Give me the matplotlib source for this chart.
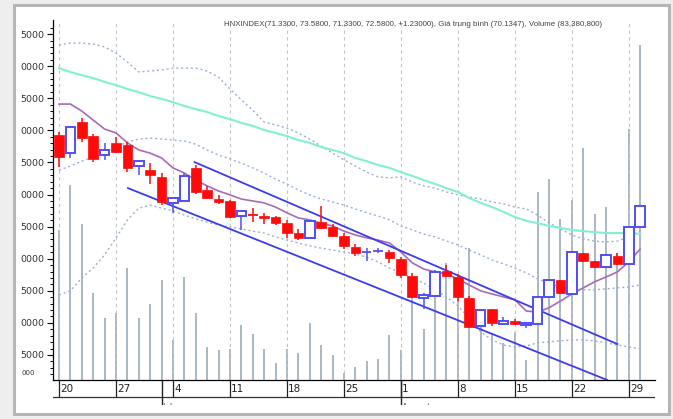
import matplotlib
matplotlib.use("Agg")
import matplotlib.pyplot as plt
from matplotlib.patches import Rectangle

# --- data (price in chart units, volume in millions) ---
opens = [78.5, 72.9, 82.6, 78.2, 72.3, 76.1, 75.4, 68.9, 67.7, 65.5,
         57.4, 58.0, 68.3, 61.4, 58.6, 58.0, 53.3, 53.7, 53.3, 53.0,
         51.1, 48.0, 46.5, 51.4, 49.9, 47.1, 43.7, 42.0, 42.3, 42.1,
         39.9, 34.6, 27.8, 28.4, 36.2, 34.3, 27.8, 19.0, 24.4, 19.7,
         20.6, 19.4, 19.7, 28.1, 33.4, 29.0, 41.8, 39.3, 37.4, 40.9,
         38.4, 49.9]
highs = [79.5, 81.4, 83.8, 78.9, 76.1, 77.9, 76.4, 70.4, 69.8, 66.7,
         59.2, 66.7, 69.2, 62.7, 59.9, 58.3, 54.9, 55.8, 54.3, 53.3,
         52.1, 49.3, 52.1, 56.4, 50.8, 48.0, 44.6, 43.3, 43.3, 42.7,
         40.5, 35.6, 29.3, 36.5, 38.1, 35.3, 28.4, 24.0, 24.4, 21.9,
         21.2, 20.3, 28.4, 33.4, 33.4, 42.1, 41.8, 39.3, 41.2, 41.8,
         49.9, 56.4]
lows = [68.6, 71.4, 76.4, 70.1, 70.8, 72.9, 67.0, 66.1, 63.3, 56.7,
        54.3, 58.0, 60.2, 58.6, 57.1, 52.7, 49.0, 51.4, 50.8, 50.5,
        46.5, 45.8, 46.5, 49.3, 46.8, 43.0, 40.9, 39.3, 41.8, 38.7,
        34.0, 27.8, 24.4, 28.4, 34.3, 26.8, 18.4, 18.7, 19.0, 19.4,
        19.4, 18.4, 19.7, 28.1, 29.0, 29.0, 39.0, 37.1, 37.4, 38.1,
        38.4, 49.9]
closes = [71.7, 81.0, 77.6, 71.1, 73.9, 73.3, 68.3, 70.4, 66.1, 57.7,
          58.9, 65.8, 60.8, 58.9, 57.7, 53.0, 54.9, 53.6, 52.7, 51.1,
          48.0, 46.5, 51.8, 49.6, 47.1, 44.0, 41.8, 42.1, 42.4, 40.2,
          34.9, 28.1, 28.7, 35.9, 34.6, 28.1, 18.7, 24.0, 20.0, 20.6,
          19.7, 20.0, 28.1, 33.4, 29.3, 42.1, 39.3, 37.4, 41.2, 38.4,
          49.9, 56.4]
volume = [37.3, 48.5, 38.8, 21.7, 15.4, 16.7, 27.9, 15.4, 18.9, 24.9,
          10.0, 25.6, 16.7, 8.2, 7.5, 7.7, 13.7, 11.4, 7.7, 4.2,
          7.7, 6.7, 14.2, 8.7, 6.2, 1.7, 3.2, 4.7, 5.2, 11.2,
          7.5, 22.9, 12.7, 23.6, 29.1, 19.9, 32.9, 17.4, 11.7, 9.2,
          12.0, 5.0, 46.8, 50.0, 40.1, 44.8, 57.7, 41.3, 43.1, 31.6,
          62.5, 83.4]
ma_short = [88.2, 88.2, 86.0, 83.2, 80.4, 79.2, 76.1, 73.9, 72.9, 71.4,
            68.3, 66.7, 64.5, 62.7, 61.1, 59.9, 58.6, 58.0, 57.4, 56.1,
            54.3, 52.7, 52.1, 51.1, 50.2, 48.6, 47.4, 46.5, 45.8, 44.9,
            42.1, 38.7, 36.8, 35.9, 35.3, 33.7, 31.8, 30.0, 29.0, 28.1,
            27.2, 23.7, 23.4, 24.7, 26.8, 29.0, 30.9, 32.8, 34.3, 35.9,
            39.0, 43.0]
ma_long = [99.4, 98.2, 97.2, 96.3, 95.1, 94.1, 92.9, 91.9, 90.7, 89.8,
           88.8, 87.6, 86.6, 85.7, 84.5, 83.5, 82.3, 81.4, 80.1, 79.2,
           78.2, 77.0, 76.1, 74.8, 73.9, 72.9, 71.4, 70.4, 69.2, 68.3,
           67.0, 65.8, 64.5, 63.3, 62.0, 60.8, 58.9, 57.4, 56.1, 54.6,
           53.0, 51.8, 51.1, 50.2, 49.6, 49.0, 48.6, 48.3, 48.0, 48.0,
           48.0, 47.7]
bb_upper = [106.6, 107.2, 107.2, 106.9, 106.0, 104.1, 101.3, 98.2, 98.5, 98.8,
            99.4, 99.4, 99.4, 98.5, 96.6, 92.9, 89.5, 86.3, 82.6, 81.7,
            80.7, 79.2, 77.3, 75.1, 72.9, 70.8, 68.9, 67.0, 65.5, 65.2,
            65.5, 63.9, 62.7, 62.0, 60.8, 59.9, 59.2, 58.6, 57.7, 57.1,
            56.1, 55.5, 53.6, 51.1, 49.3, 47.4, 46.2, 45.5, 45.2, 45.5,
            46.8, 48.6]
bb_mid = [67.6, 68.9, 70.4, 71.7, 73.3, 74.8, 76.4, 77.3, 77.6, 77.3,
          77.0, 76.7, 75.7, 73.9, 72.3, 71.1, 69.8, 68.3, 66.7, 64.8,
          63.3, 61.4, 59.9, 58.6, 57.7, 56.7, 55.5, 54.3, 53.3, 52.1,
          50.2, 49.0, 47.7, 46.8, 45.5, 44.3, 42.7, 41.2, 39.6, 38.4,
          37.1, 35.6, 33.7, 32.4, 31.2, 30.6, 30.3, 30.3, 30.6, 30.9,
          31.2, 31.8]
bb_lower = [28.7, 30.0, 34.0, 37.1, 41.2, 46.5, 52.1, 55.8, 56.7, 55.8,
            54.9, 53.6, 52.4, 51.4, 50.5, 49.9, 49.3, 48.6, 48.0, 46.8,
            45.8, 44.9, 44.0, 43.3, 42.7, 42.1, 41.5, 40.5, 39.0, 37.1,
            35.6, 34.0, 32.4, 30.3, 28.1, 25.3, 21.5, 17.2, 14.7, 13.1,
            12.5, 12.8, 13.8, 14.1, 14.4, 14.7, 14.7, 14.4, 13.8, 13.1,
            12.5, 11.9]
# hand drawn channel (bar index, price)
chan_top = [(11.9, 70.1), (49.0, 13.4)]
chan_bot = [(6.05, 62.0), (48.1, 2.2)]

week_pos = [0, 5, 10, 15, 20, 25, 30, 35, 40, 45, 50]
week_labels = ["20", "27", "4", "11", "18", "25", "1", "8", "15", "22", "29"]
month_pos = [9, 30]
month_labels = ["July", "August"]
yticks = [10, 20, 30, 40, 50, 60, 70, 80, 90, 100, 110]
ytick_labels = ["5000", "0000", "5000", "0000", "5000", "0000",
                "5000", "0000", "5000", "0000", "5000"]
title = ("HNXINDEX(71.3300, 73.5800, 71.3300, 72.5800, +1.23000), "
         "Giá trung bình (70.1347), Volume (83,380,800)")

# --------------------------------------------------------

W, H = 673, 419
fig = plt.figure(figsize=(W / 100, H / 100), dpi=100, facecolor="#eeeeee")


def box(x0, y0, x1, y1):
    return [x0 / W, 1 - y1 / H, (x1 - x0) / W, (y1 - y0) / H]


# white panel with a soft grey frame
fig.patches.append(Rectangle((14 / W, 1 - 414 / H), 655 / W, 409 / H,
                             transform=fig.transFigure, facecolor="white",
                             edgecolor="#b5b5b5", linewidth=2.2, zorder=-5))

XLIM = (-0.53, 52.3)
YLIM = (2.2, 114.4)
n = len(closes)
xs = list(range(n))

# volume sits behind everything
axv = fig.add_axes(box(53, 20, 655, 380))
axv.set_xlim(*XLIM)
axv.set_ylim(0, 89.6)
axv.axis("off")
axv.vlines(xs, 0, volume, color="#a9b9c1", linewidth=1.4)

ax = fig.add_axes(box(53, 20, 655, 380))
ax.patch.set_alpha(0)
ax.set_xlim(*XLIM)
ax.set_ylim(*YLIM)

for p in week_pos:
    ax.axvline(p, color="#c4c4c4", linewidth=0.8, linestyle=(0, (3, 3)), zorder=1)

ax.plot(xs, bb_upper, color="#9ab0da", linewidth=1.0, linestyle=(0, (1.5, 2)), zorder=2)
ax.plot(xs, bb_mid, color="#9ab0da", linewidth=1.0, linestyle=(0, (1.5, 2)), zorder=2)
ax.plot(xs, bb_lower, color="#9ab0da", linewidth=1.0, linestyle=(0, (1.5, 2)), zorder=2)
ax.plot(xs, ma_long, color="#82f0d2", linewidth=1.5, zorder=2)
ax.plot(xs, ma_short, color="#a86ab8", linewidth=1.2, zorder=4)

for seg in (chan_top, chan_bot):
    ax.plot([seg[0][0], seg[1][0]], [seg[0][1], seg[1][1]],
            color="#3c3cee", linewidth=1.3, zorder=5)

bw = 0.84
for i in range(n):
    o, h, l, c = opens[i], highs[i], lows[i], closes[i]
    up = c >= o
    col = "#4f4ff5" if up else "#ff0a0a"
    ax.vlines(i, l, h, color=col, linewidth=1.1, zorder=6)
    lo, hi = min(o, c), max(o, c)
    if hi - lo < 0.35:
        ax.hlines((o + c) / 2, i - bw / 2, i + bw / 2, color=col, linewidth=1.3, zorder=7)
    elif up:
        ax.add_patch(Rectangle((i - bw / 2, lo), bw, hi - lo, facecolor="white",
                               edgecolor=col, linewidth=1.4, zorder=7))
    else:
        ax.add_patch(Rectangle((i - bw / 2, lo), bw, hi - lo, facecolor=col,
                               edgecolor=col, linewidth=0.5, zorder=7))

ax.set_xticks([])
ax.set_yticks(yticks)
ax.set_yticklabels(ytick_labels)
ax.set_yticks([t for t in range(4, 114, 2)], minor=True)
ax.tick_params(axis="y", which="major", length=4, width=0.8, labelsize=6.8,
               labelcolor="#333333", pad=2)
ax.tick_params(axis="y", which="minor", length=2, width=0.7)
for s in ("top", "right"):
    ax.spines[s].set_visible(False)
ax.spines["left"].set_linewidth(0.9)
ax.spines["bottom"].set_linewidth(0.9)

ax.text(-0.03, 0.02, "000", transform=ax.transAxes, ha="right", va="center",
        fontsize=5, color="#333333")

# date strip under the chart
axd = fig.add_axes(box(53, 380, 655, 405))
axd.set_xlim(*XLIM)
axd.set_ylim(0, 1)
axd.axis("off")
axd.axhline(0.32, xmin=0, xmax=1, color="#333333", linewidth=0.9)
for p, lab in zip(week_pos, week_labels):
    axd.vlines(p, 0.32, 1, color="#222222", linewidth=0.9)
    axd.text(p + 0.1, 0.66, lab, ha="left", va="center", fontsize=7.5, color="#222222")
for p, lab in zip(month_pos, month_labels):
    axd.vlines(p, 0.0, 1, color="#222222", linewidth=1.0)
    axd.text(p + 0.1, 0.1, lab, ha="left", va="top", fontsize=6, color="#555555",
             clip_on=True)

fig.text(224 / W, 1 - 24 / H, title, ha="left", va="center", fontsize=5.7,
         color="#444444", family=["Liberation Sans", "DejaVu Sans"])

fig.savefig("out.png", dpi=100, facecolor=fig.get_facecolor())
